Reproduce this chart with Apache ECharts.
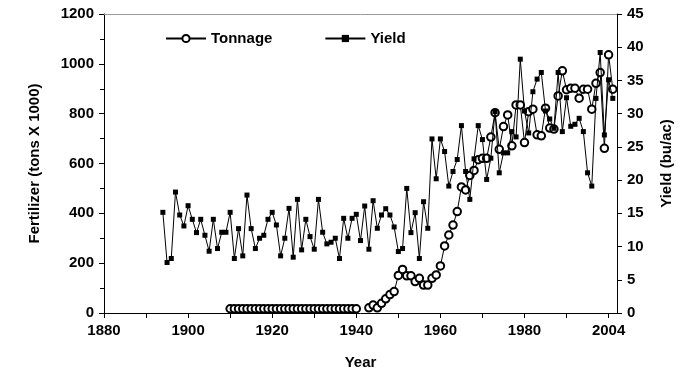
<!DOCTYPE html>
<html>
<head>
<meta charset="utf-8">
<script src="https://cdn.jsdelivr.net/npm/echarts@6/dist/echarts.min.js"></script>
<style>
html,body{margin:0;padding:0;background:#fff;}
#chart{width:688px;height:378px;}
</style>
</head>
<body>
<div id="chart"></div>
<script>
// ---- data ----
const yieldStartYear = 1894;
const yieldValues = [
  15.15, 7.6, 8.2, 18.2, 14.75, 13.1, 16.15, 14.1, 12.1, 14.1,
  11.7, 9.3, 14.1, 9.7, 12.15, 12.15, 15.15, 8.2, 12.7, 8.6,
  17.75, 12.7, 9.7, 11.25, 11.7, 14.1, 15.15, 13.25, 8.6, 11.25,
  15.75, 8.4, 17.1, 9.5, 14.1, 11.5, 9.6, 17.1, 12.15, 10.4,
  10.65, 11.25, 8.2, 14.25, 11.25, 14.25, 14.85, 10.9, 16.1, 9.6,
  16.9, 12.75, 14.75, 15.7, 14.75, 12.95, 9.25, 9.7, 18.75, 12.1,
  15.1, 8.2, 16.75, 12.75, 26.2, 20.2, 26.2, 24.3, 19.1, 21.3,
  23.1, 28.2, 21.3, 17.1, 23.2, 28.2, 26.1, 20.1, 23.3, 30.3,
  21.1, 24.1, 24.1, 27.3, 26.5, 38.2, 30.4, 27.1, 33.3, 35.2,
  36.2, 30.4, 29.2, 27.8, 36.2, 27.3, 32.4, 28.1, 28.4, 29.3,
  27.3, 21.1, 19.1, 32.3, 39.2, 26.8, 35.1, 32.3
];
const tonnageStartYear = 1910;
const tonnageValues = [
  17, 17, 17, 17, 17, 17, 17, 17, 17, 17,
  17, 17, 17, 17, 17, 17, 17, 17, 17, 17,
  17, 17, 17, 17, 17, 17, 17, 17, 17, 17,
  17, null, null, 21, 32, 21, 39, 57, 74, 86,
  151, 175, 149, 149, 126, 139, 112, 112, 139, 153,
  189, 269, 313, 353, 407, 506, 494, 552, 572, 615,
  621, 621, 706, 804, 657, 748, 795, 671, 835, 835,
  684, 808, 818, 715, 711, 822, 742, 738, 871, 972,
  896, 902, 902, 862, 898, 898, 818, 922, 965, 661,
  1036, 898
];
const xTickPositions = [1880, 1900, 1920, 1940, 1960, 1980, 2000];
const xTickLabels = ['1880', '1900', '1920', '1940', '1960', '1980', '2004'];
const seriesNames = ['Tonnage', 'Yield'];
const axisTitles = { x: 'Year', left: 'Fertilizer (tons X 1000)', right: 'Yield (bu/ac)' };

// ---- build ----
const yieldData = yieldValues.map((v, i) => [yieldStartYear + i, v]);
const tonnageData = tonnageValues.map((v, i) => [tonnageStartYear + i, v]);

const FONT = '"Liberation Sans", Arial, sans-serif';
const txt = { color: '#000', fontFamily: FONT, fontWeight: 'bold', fontSize: 15 };

const chart = echarts.init(document.getElementById('chart'), null, { renderer: 'canvas' });
chart.setOption({
  animation: false,
  backgroundColor: '#fff',
  grid: { left: 104, right: 71, top: 14, bottom: 65, containLabel: false },
  legend: {
    data: seriesNames,
    left: 160, top: 26,
    itemWidth: 40, itemHeight: 9, itemGap: 52,
    textStyle: Object.assign({}, txt),
    inactiveColor: '#000'
  },
  xAxis: [{
    type: 'value', min: 1880, max: 2002, interval: 10,
    name: axisTitles.x, nameLocation: 'middle', nameGap: 42,
    nameTextStyle: Object.assign({}, txt),
    axisLine: { show: true, onZero: false, lineStyle: { color: '#000', width: 1 } },
    axisTick: { show: true, length: 5, lineStyle: { color: '#000' } },
    axisLabel: Object.assign({}, txt, {
      margin: 10, showMaxLabel: false,
      formatter: v => { const k = xTickPositions.indexOf(v); return k >= 0 ? xTickLabels[k] : ''; }
    }),
    splitLine: { show: false }
  }, {
    type: 'value', min: 1880, max: 2002, position: 'top',
    axisLine: { show: true, onZero: false, lineStyle: { color: '#9a9a9a', width: 1 } },
    axisTick: { show: false }, axisLabel: { show: false }, splitLine: { show: false }
  }],
  yAxis: [{
    type: 'value', min: 0, max: 1200, interval: 200, position: 'left',
    name: axisTitles.left, nameLocation: 'middle', nameGap: 62, nameRotate: 90,
    nameTextStyle: Object.assign({}, txt),
    axisLine: { show: true, onZero: false, lineStyle: { color: '#000', width: 1 } },
    axisTick: { show: true, length: 5, lineStyle: { color: '#000' } },
    minorTick: { show: true, splitNumber: 2, length: 4, lineStyle: { color: '#000' } },
    axisLabel: Object.assign({}, txt, { margin: 10, formatter: v => String(v) }),
    splitLine: { show: false }
  }, {
    type: 'value', min: 0, max: 45, interval: 5, position: 'right',
    name: axisTitles.right, nameLocation: 'middle', nameGap: 42, nameRotate: 90,
    nameTextStyle: Object.assign({}, txt),
    axisLine: { show: true, onZero: false, lineStyle: { color: '#000', width: 1 } },
    axisTick: { show: true, length: 5, lineStyle: { color: '#000' } },
    axisLabel: Object.assign({}, txt, { margin: 10, formatter: v => String(v) }),
    splitLine: { show: false }
  }],
  series: [{
    name: seriesNames[0], type: 'line', xAxisIndex: 0, yAxisIndex: 0,
    data: tonnageData, connectNulls: false,
    symbol: 'emptyCircle', symbolSize: 7.5, showAllSymbol: true,
    itemStyle: { color: '#000', borderColor: '#000', borderWidth: 1 },
    lineStyle: { color: '#000', width: 1 }, z: 2
  }, {
    name: seriesNames[1], type: 'line', xAxisIndex: 0, yAxisIndex: 1,
    data: yieldData,
    symbol: 'rect', symbolSize: 5, showAllSymbol: true,
    itemStyle: { color: '#000' },
    lineStyle: { color: '#000', width: 1 }, z: 3
  }]
});
</script>
</body>
</html>
